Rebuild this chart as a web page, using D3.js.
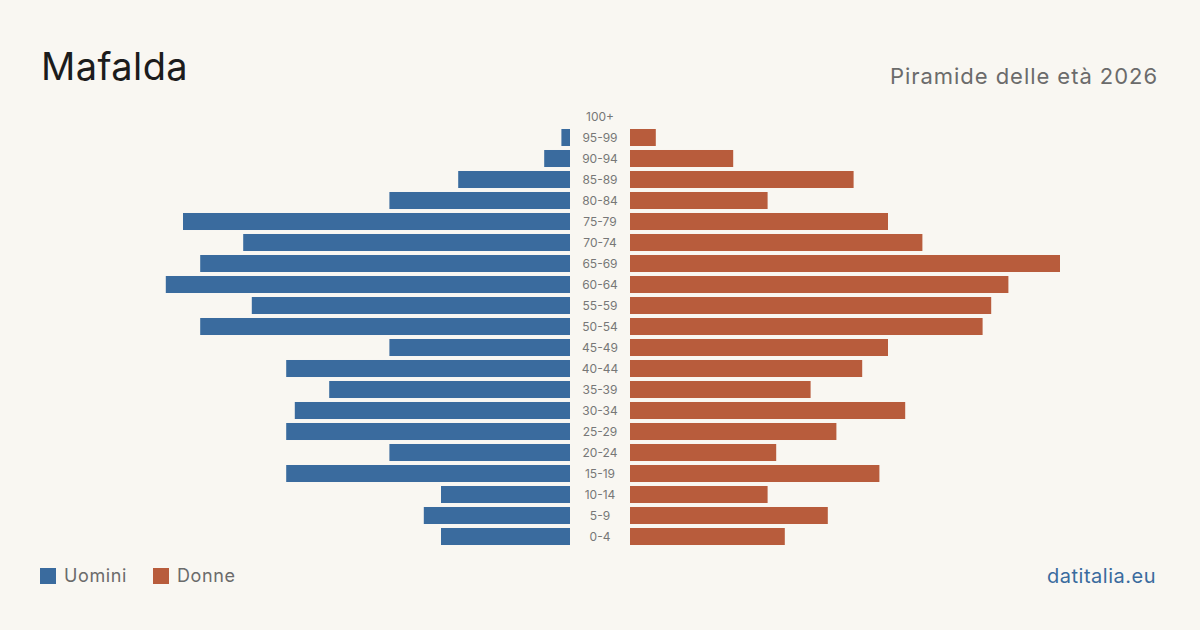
<!DOCTYPE html>
<html>
<head>
<meta charset="utf-8">
<script src="https://cdn.jsdelivr.net/npm/d3@7"></script>
<style>
  body { margin: 0; background: #f9f7f2; }
  svg { display: block; font-family: Inter, "Noto Sans", sans-serif; }
</style>
</head>
<body>
<svg id="chart" width="1200" height="630"></svg>
<script>
// age groups, top to bottom
var ages = ["100+", "95-99", "90-94", "85-89", "80-84", "75-79", "70-74", "65-69", "60-64", "55-59",
  "50-54", "45-49", "40-44", "35-39", "30-34", "25-29", "20-24", "15-19", "10-14", "5-9", "0-4"];
// residents by age group
var uomini = [0, 1, 3, 13, 21, 45, 38, 43, 47, 37, 43, 21, 33, 28, 32, 33, 21, 33, 15, 17, 15];
var donne  = [0, 3, 12, 26, 16, 30, 34, 50, 44, 42, 41, 30, 27, 21, 32, 24, 17, 29, 16, 23, 18];

var blu = "#3a6b9e", rosso = "#b85c3c";

var svg = d3.select("#chart");

//title and subtitle
svg.append("text").attr("x", 41).attr("y", 80)
  .style("font-size", "38px").style("letter-spacing", "0.4px").style("fill", "#1c1c1c").text("Mafalda");
svg.append("text").attr("x", 1158).attr("y", 84).attr("text-anchor", "end")
  .style("font-size", "22px").style("letter-spacing", "0.95px").style("fill", "#6b6b6b").text("Piramide delle età 2026");

//scales: one band per age group, same length scale both sides
var y = d3.scaleBand().domain(ages).range([106, 547]).paddingInner(0.19).paddingOuter(0.095);
var maxV = d3.max(uomini.concat(donne));
var w = d3.scaleLinear().domain([0, maxV]).range([0, 430]);
var centre = 600, gap = 30;

var rows = ages.map(function (a, i) { return { age: a, m: uomini[i], f: donne[i] }; });

svg.selectAll("rect.m").data(rows).enter().append("rect")
  .attr("class", "m")
  .attr("x", function (d) { return centre - gap - w(d.m); })
  .attr("y", function (d) { return y(d.age); })
  .attr("width", function (d) { return w(d.m); })
  .attr("height", y.bandwidth())
  .style("fill", blu);

svg.selectAll("rect.f").data(rows).enter().append("rect")
  .attr("class", "f")
  .attr("x", centre + gap)
  .attr("y", function (d) { return y(d.age); })
  .attr("width", function (d) { return w(d.f); })
  .attr("height", y.bandwidth())
  .style("fill", rosso);

//age labels in the middle
svg.selectAll("text.age").data(ages).enter().append("text")
  .attr("class", "age")
  .attr("x", centre)
  .attr("y", function (d) { return y(d) + y.bandwidth() / 2; })
  .attr("dy", "0.35em")
  .attr("text-anchor", "middle")
  .style("font-size", "12px").style("fill", "#777")
  .text(function (d) { return d; });

//legend
var legend = [{ name: "Uomini", c: blu, x: 40 }, { name: "Donne", c: rosso, x: 153 }];
var lg = svg.selectAll("g.legend").data(legend).enter().append("g")
  .attr("transform", function (d) { return "translate(" + d.x + ",568)"; });
lg.append("rect").attr("width", 16).attr("height", 16).style("fill", function (d) { return d.c; });
lg.append("text").attr("x", 24).attr("y", 8).attr("dy", "0.35em")
  .style("font-size", "18px").style("letter-spacing", "0.6px").style("fill", "#6b6b6b").text(function (d) { return d.name; });

//source
svg.append("text").attr("x", 1156).attr("y", 583).attr("text-anchor", "end")
  .style("font-size", "20px").style("letter-spacing", "0.5px").style("fill", blu).text("datitalia.eu");
</script>
</body>
</html>
